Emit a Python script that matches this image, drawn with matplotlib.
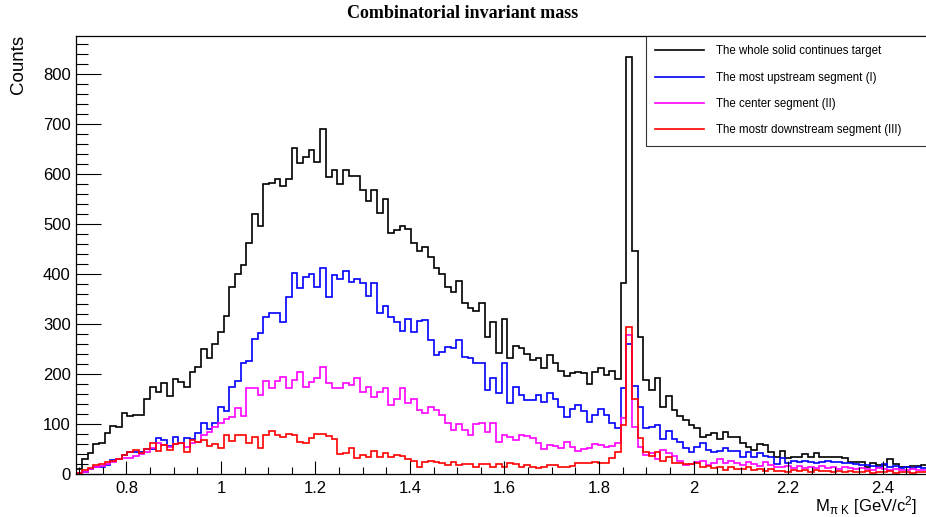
import numpy as np
import matplotlib.pyplot as plt
from matplotlib.ticker import MultipleLocator

# histogram binning
x_start = 0.694
bin_width = 0.012

whole = [10, 30, 42, 61, 63, 82, 97, 95, 122, 117, 119, 119, 151, 174, 164, 182, 157, 190, 185, 175, 205,
         214, 250, 232, 261, 285, 317, 374, 400, 419, 462, 520, 497, 581, 583, 591, 577, 590, 653, 623, 634, 649, 625,
         690, 595, 609, 580, 609, 597, 597, 569, 547, 569, 523, 550, 483, 489, 497, 490, 463, 447, 455, 435, 412, 400,
         375, 365, 387, 343, 333, 327, 343, 274, 305, 242, 310, 232, 257, 252, 241, 229, 232, 212, 239, 222, 207, 197,
         202, 205, 202, 181, 205, 212, 199, 207, 190, 383, 834, 447, 274, 189, 169, 192, 134, 157, 129, 117, 108, 98,
         92, 75, 79, 82, 70, 85, 75, 75, 62, 55, 49, 61, 59, 45, 35, 47, 32, 34, 35, 41, 34, 42, 35,
         35, 34, 34, 32, 25, 25, 25, 15, 23, 19, 19, 30, 21, 15, 15, 17, 17, 19, 19, 19]

upstream = [2, 5, 10, 15, 15, 18, 28, 30, 38, 45, 45, 45, 50, 50, 72, 69, 57, 75, 62, 72, 70,
            82, 102, 90, 103, 134, 127, 175, 187, 223, 227, 271, 283, 315, 323, 323, 305, 355, 402, 372, 394, 400, 375,
            412, 355, 399, 390, 407, 385, 390, 383, 357, 383, 322, 337, 315, 305, 287, 310, 285, 307, 309, 269, 239, 245,
            255, 252, 269, 234, 232, 222, 223, 169, 192, 162, 222, 143, 175, 159, 149, 149, 159, 145, 163, 150, 135, 115,
            130, 139, 127, 105, 119, 130, 119, 102, 92, 172, 261, 177, 135, 92, 95, 99, 70, 87, 70, 65, 52, 45,
            54, 62, 49, 45, 47, 52, 47, 47, 35, 45, 35, 42, 37, 35, 21, 32, 23, 27, 25, 27, 25, 23, 25,
            27, 25, 25, 22, 22, 20, 19, 19, 17, 15, 20, 15, 17, 12, 15, 12, 14, 12, 12, 12]

center = [2, 5, 10, 15, 17, 20, 25, 30, 32, 33, 36, 40, 45, 52, 62, 58, 55, 60, 62, 55, 62,
          65, 79, 85, 95, 103, 110, 115, 132, 117, 172, 172, 159, 187, 172, 187, 194, 172, 189, 204, 175, 185, 192,
          215, 183, 172, 172, 182, 179, 192, 165, 175, 154, 165, 172, 139, 150, 172, 142, 150, 129, 122, 135, 129, 118,
          102, 89, 101, 89, 79, 101, 103, 85, 102, 65, 79, 74, 69, 79, 77, 72, 62, 50, 59, 57, 52, 65,
          55, 47, 50, 52, 61, 59, 54, 57, 63, 112, 279, 95, 55, 39, 42, 30, 49, 42, 37, 27, 19, 21,
          25, 27, 19, 23, 30, 22, 27, 23, 19, 25, 21, 17, 25, 19, 15, 14, 17, 12, 17, 12, 14, 12, 17,
          12, 15, 10, 14, 12, 10, 13, 11, 9, 12, 10, 8, 11, 9, 8, 10, 8, 9, 8, 9]

downstream = [3, 8, 12, 18, 20, 25, 27, 30, 38, 45, 48, 42, 50, 62, 47, 59, 49, 60, 62, 45, 69,
              65, 69, 57, 61, 52, 79, 67, 79, 79, 63, 74, 52, 79, 87, 79, 75, 81, 79, 65, 63, 72, 80,
              80, 76, 70, 40, 42, 52, 33, 38, 35, 47, 35, 42, 34, 39, 37, 30, 27, 14, 25, 27, 25, 22,
              18, 25, 18, 20, 20, 15, 20, 20, 15, 20, 15, 22, 20, 15, 18, 15, 12, 15, 18, 18, 15, 14,
              17, 22, 23, 23, 25, 23, 23, 32, 45, 99, 294, 150, 72, 45, 37, 45, 27, 35, 23, 22, 21, 21,
              22, 15, 17, 12, 15, 9, 14, 10, 10, 14, 9, 10, 7, 10, 7, 7, 5, 9, 7, 9, 5, 9, 7,
              6, 5, 7, 4, 6, 5, 4, 6, 3, 5, 4, 6, 3, 5, 4, 3, 5, 4, 3, 4]

labels = ["The whole solid continues target", "The most upstream segment (I)",
          "The center segment (II)", "The mostr downstream segment (III)"]
colors = ["black", "#0000ff", "#ff00ff", "#ff0000"]

plt.rcParams["font.family"] = ["Liberation Sans", "DejaVu Sans"]
plt.rcParams["mathtext.default"] = "regular"

W, H = 926, 517
fig = plt.figure(figsize=(W / 100, H / 100), dpi=100)
ax_l, ax_b, ax_t = 76.3, 474.3, 36.0
ax = fig.add_axes([ax_l / W, 1 - ax_b / H, 1 - ax_l / W + 0.01, (ax_b - ax_t) / H])

edges = x_start + bin_width * np.arange(len(whole) + 1)
for vals, col, lab in zip([whole, upstream, center, downstream], colors, labels):
    ax.stairs(vals, edges, color=col, lw=1.2, label=lab)

ax.set_xlim(0.694, 2.5115)
ax.set_ylim(0, 876.6)

ax.xaxis.set_minor_locator(MultipleLocator(0.05))
ax.yaxis.set_major_locator(MultipleLocator(100))
ax.yaxis.set_minor_locator(MultipleLocator(20))
ax.set_xticks([0.8, 1.0, 1.2, 1.4, 1.6, 1.8, 2.0, 2.2, 2.4])
ax.set_xticklabels(["0.8", "1", "1.2", "1.4", "1.6", "1.8", "2", "2.2", "2.4"])
ax.tick_params(axis="both", which="both", direction="in", width=0.8, labelsize=12,
               top=False, right=False)
ax.tick_params(axis="y", which="major", length=18, pad=4)
ax.tick_params(axis="y", which="minor", length=8.6)
ax.tick_params(axis="x", which="major", length=9.5, pad=5)
ax.tick_params(axis="x", which="minor", length=5)
for s in ["left", "bottom", "top"]:
    ax.spines[s].set_linewidth(0.9)
ax.spines["right"].set_visible(False)

fig.text(463 / W, 1 - 14 / H, "Combinatorial invariant mass", ha="center", va="center",
         family="Liberation Serif", weight="bold", fontsize=13)
fig.text(917 / W, 1 - 506 / H, "M$_{\\pi\\ K}$ [GeV/c$^{2}$]", ha="right", va="center", fontsize=12)
fig.text(18 / W, 1 - 35 / H, "Counts", rotation=90, ha="center", va="top", fontsize=13.5)

leg = ax.legend(loc="upper left", bbox_to_anchor=(645.7 / W, 1 - ax_t / H, 0.5, 0.0),
                bbox_transform=fig.transFigure, mode="expand", fontsize=8.3, frameon=True,
                fancybox=False, edgecolor="black", borderpad=0.8, labelspacing=1.25,
                handlelength=4.3, handletextpad=1.0, borderaxespad=0)
leg.get_frame().set_linewidth(0.8)

fig.savefig("out.png", dpi=100)
